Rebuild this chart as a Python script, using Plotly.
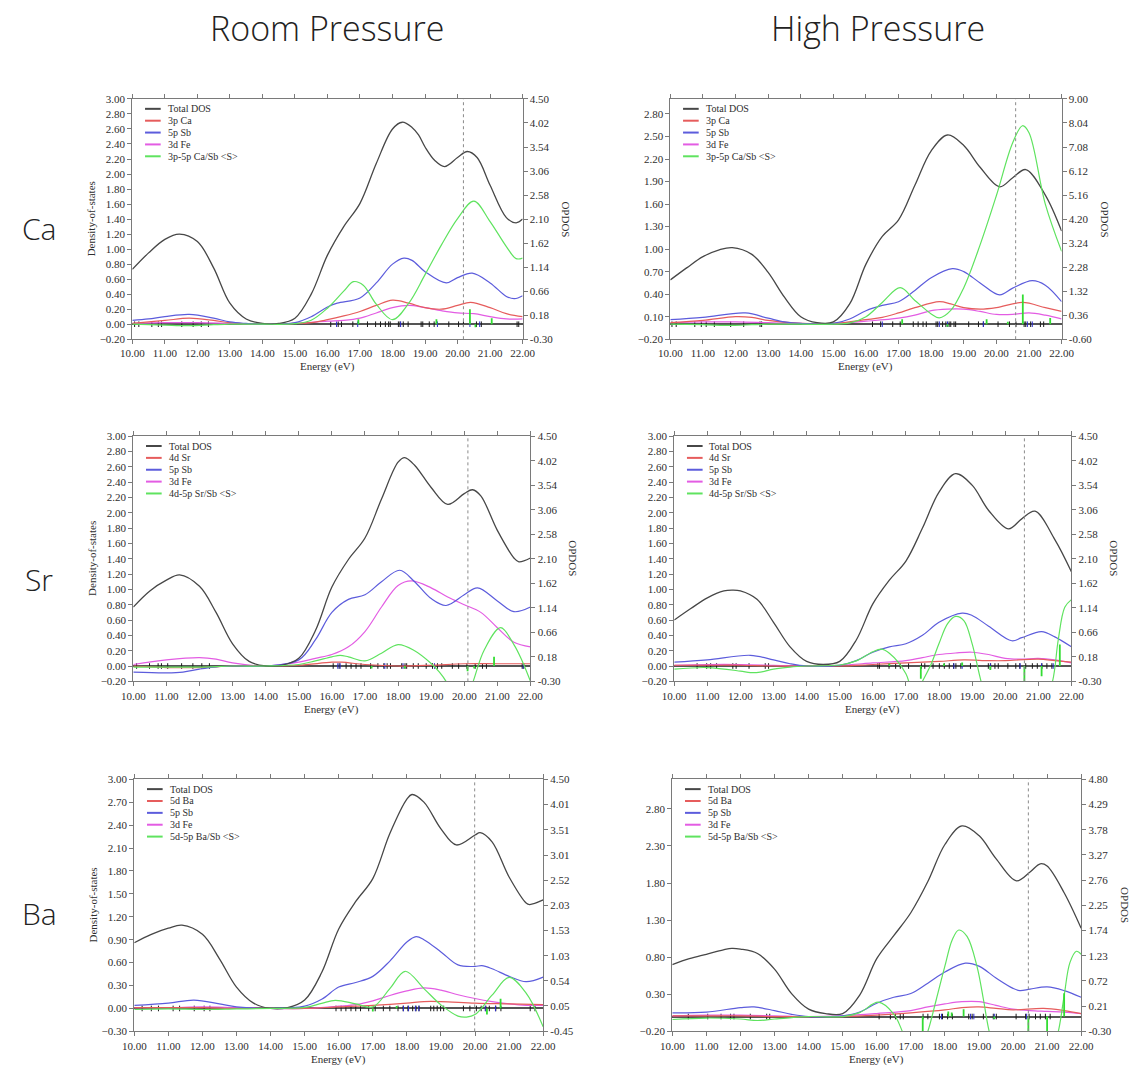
import plotly.graph_objects as go

W, H = 1147, 1071

# ---------------- data: (energy eV, value) pairs ----------------
# Ca, room pressure
CA_RP_TOTAL = [(10.0,0.73),(10.5,0.95),(11.0,1.13),(11.45,1.20),(12.0,1.10),(12.5,0.75),(13.0,0.28),(13.5,0.07),(14.0,0.01),(14.5,0.01),(15.0,0.08),(15.5,0.40),(16.0,0.92),(16.5,1.30),(17.0,1.61),(17.5,2.14),(18.0,2.60),(18.3,2.69),(18.6,2.62),(18.8,2.52),(19.0,2.36),(19.3,2.18),(19.6,2.10),(20.0,2.22),(20.3,2.30),(20.6,2.22),(21.0,1.85),(21.5,1.42),(21.8,1.35),(22.0,1.40)]
CA_RP_CA = [(10.0,0.01),(11.0,0.05),(11.75,0.08),(12.5,0.05),(13.0,0.02),(14.0,0.0),(15.0,0.01),(15.5,0.02),(16.0,0.06),(16.5,0.11),(17.0,0.17),(17.5,0.25),(18.0,0.32),(18.5,0.28),(19.0,0.22),(19.5,0.20),(20.0,0.25),(20.4,0.29),(21.0,0.22),(21.5,0.14),(22.0,0.10)]
CA_RP_SB = [(10.0,0.05),(10.5,0.07),(11.0,0.10),(11.75,0.13),(12.5,0.08),(13.0,0.03),(13.5,0.01),(14.0,0.0),(15.0,0.02),(15.5,0.10),(16.0,0.23),(16.3,0.28),(17.0,0.35),(17.5,0.55),(18.0,0.80),(18.35,0.88),(18.6,0.85),(19.0,0.70),(19.65,0.55),(20.0,0.62),(20.45,0.68),(21.0,0.55),(21.5,0.37),(21.75,0.34),(22.0,0.38)]
CA_RP_FE = [(10.0,0.01),(11.0,0.02),(12.0,0.02),(13.0,0.01),(14.0,0.0),(15.0,0.01),(16.0,0.04),(16.5,0.05),(17.0,0.08),(17.5,0.15),(18.0,0.22),(18.5,0.25),(19.0,0.22),(19.5,0.18),(20.0,0.15),(20.5,0.14),(21.0,0.10),(21.5,0.07),(22.0,0.07)]
CA_RP_OP = [(10.0,0.0),(11.0,-0.02),(11.75,-0.03),(12.5,-0.01),(13.0,0.0),(14.0,0.0),(15.0,0.01),(15.5,0.08),(16.0,0.32),(16.5,0.66),(16.8,0.85),(17.1,0.78),(17.5,0.40),(18.0,0.09),(18.5,0.42),(19.0,0.99),(19.5,1.58),(20.0,2.11),(20.5,2.46),(21.0,2.05),(21.5,1.55),(21.8,1.31),(22.0,1.32)]
CA_RP_FERMI = 20.18
CA_RP_LEVELS = [10.07,10.2,10.6,10.8,10.9,11.52,11.87,12.12,12.34,16.1,16.33,16.43,16.78,17.23,17.48,17.63,17.78,17.88,17.93,18.18,18.23,18.33,18.48,18.88,18.93,19.13,19.28,19.73,20.03,20.18,20.58,20.73,21.83,21.88]
CA_RP_LEVELS_SB = [16.28,16.93,18.25,19.38,20.38,20.68]
CA_RP_SPIKES = [(16.95,0.10),(19.35,0.10),(20.38,0.30),(20.55,-0.06),(21.05,0.12)]

# Ca, high pressure
CA_HP_TOTAL = [(10.0,0.59),(10.5,0.75),(11.0,0.90),(11.5,0.99),(11.9,1.02),(12.5,0.93),(13.0,0.69),(13.5,0.36),(14.0,0.10),(14.5,0.02),(15.0,0.03),(15.5,0.27),(16.0,0.80),(16.5,1.17),(17.0,1.39),(17.5,1.85),(18.0,2.31),(18.5,2.52),(19.0,2.38),(19.5,2.09),(20.1,1.83),(20.5,1.95),(20.9,2.06),(21.5,1.72),(22.0,1.24)]
CA_HP_CA = [(10.0,0.02),(11.0,0.05),(12.0,0.10),(12.5,0.09),(13.0,0.05),(14.0,0.01),(15.0,0.01),(16.0,0.06),(16.5,0.09),(17.0,0.15),(17.5,0.22),(18.25,0.30),(18.6,0.27),(19.0,0.22),(19.5,0.20),(20.0,0.22),(20.8,0.29),(21.5,0.22),(22.0,0.17)]
CA_HP_SB = [(10.0,0.06),(11.0,0.09),(12.3,0.15),(13.0,0.08),(13.5,0.03),(14.0,0.01),(15.0,0.01),(15.5,0.07),(16.0,0.18),(16.5,0.25),(17.0,0.30),(17.5,0.45),(18.0,0.62),(18.65,0.74),(19.0,0.70),(19.5,0.55),(20.1,0.39),(20.5,0.48),(21.1,0.58),(21.5,0.52),(22.0,0.30)]
CA_HP_FE = [(10.0,0.02),(11.0,0.03),(12.0,0.03),(13.0,0.02),(14.0,0.01),(15.0,0.01),(16.0,0.04),(17.0,0.08),(17.5,0.12),(18.0,0.18),(18.5,0.20),(19.0,0.20),(19.5,0.17),(20.0,0.13),(20.5,0.13),(21.0,0.15),(21.5,0.12),(22.0,0.07)]
CA_HP_OP = [(10.0,0.0),(11.0,-0.02),(11.9,-0.05),(12.5,-0.02),(13.0,0.0),(14.0,0.0),(15.0,0.0),(15.5,0.05),(16.0,0.30),(16.5,0.87),(17.05,1.46),(17.5,0.95),(18.0,0.41),(18.25,0.25),(18.6,0.55),(19.0,1.46),(19.5,3.17),(20.0,5.14),(20.5,7.25),(20.8,7.93),(21.0,7.65),(21.5,4.80),(22.0,2.91)]
CA_HP_FERMI = 20.59
CA_HP_LEVELS = [10.05,10.18,10.75,10.95,11.1,11.35,11.85,12.25,12.75,12.8,16.2,16.45,16.82,17.05,17.45,17.6,17.75,17.85,18.15,18.2,18.35,18.45,18.55,18.6,18.7,18.75,19.15,19.45,19.6,20.05,20.4,20.6,20.85,20.9,21.05,21.35,21.45]
CA_HP_LEVELS_SB = [16.5,18.25,18.5,19.6,20.95,21.1]
CA_HP_SPIKES = [(17.11,0.20),(18.5,-0.10),(19.7,0.20),(20.35,0.10),(20.81,1.19),(21.65,0.25)]

# Sr, room pressure
SR_RP_TOTAL = [(10.0,0.77),(10.5,0.98),(11.0,1.12),(11.4,1.19),(12.0,1.04),(12.5,0.70),(13.0,0.29),(13.5,0.06),(14.0,0.0),(14.5,0.01),(15.0,0.10),(15.5,0.46),(16.0,1.03),(16.5,1.39),(17.0,1.67),(17.5,2.18),(18.0,2.66),(18.2,2.72),(18.5,2.62),(19.0,2.33),(19.5,2.11),(20.0,2.25),(20.25,2.30),(20.5,2.22),(21.0,1.77),(21.5,1.41),(21.65,1.36),(22.0,1.41)]
SR_RP_SR = [(10.0,0.0),(11.0,-0.02),(12.0,-0.02),(13.0,0.0),(14.0,0.0),(15.0,0.01),(16.0,0.05),(16.3,0.05),(17.0,0.02),(18.0,0.0),(19.0,0.01),(20.0,0.03),(21.0,0.03),(22.0,0.03)]
SR_RP_SB = [(10.0,-0.08),(11.0,-0.09),(11.5,-0.08),(12.0,-0.04),(12.5,-0.01),(13.0,0.0),(14.0,0.0),(15.0,0.08),(15.5,0.34),(16.0,0.70),(16.5,0.87),(17.0,0.93),(17.5,1.10),(18.05,1.25),(18.5,1.10),(19.0,0.88),(19.45,0.79),(20.0,0.93),(20.4,1.02),(21.0,0.85),(21.5,0.71),(22.0,0.77)]
SR_RP_FE = [(10.0,0.02),(11.0,0.08),(12.0,0.11),(12.5,0.09),(13.0,0.04),(14.0,0.0),(15.0,0.05),(15.5,0.10),(16.0,0.15),(16.5,0.25),(17.0,0.45),(17.5,0.77),(18.0,1.05),(18.4,1.11),(19.0,1.02),(19.5,0.90),(20.0,0.80),(20.5,0.70),(21.0,0.50),(21.5,0.31),(22.0,0.25)]
SR_RP_OP = [(10.0,-0.02),(11.0,-0.02),(12.0,-0.02),(13.0,0.0),(14.0,0.0),(15.0,0.03),(15.5,0.10),(16.0,0.18),(16.25,0.21),(16.5,0.18),(17.0,0.10),(17.5,0.25),(18.0,0.42),(18.5,0.30),(19.0,0.05),(19.25,-0.12),(19.45,-0.30),(19.75,-0.70),(20.0,-0.75),(20.27,-0.30),(20.6,0.31),(21.1,0.75),(21.5,0.42),(21.75,0.10),(22.0,-0.30)]
SR_RP_FERMI = 20.11
SR_RP_LEVELS = [10.1,10.49,10.75,10.85,11.04,11.46,11.8,12.07,12.3,16.04,16.22,16.43,16.58,16.73,16.88,17.17,17.39,17.57,17.67,17.77,18.11,18.21,18.26,18.46,18.61,18.85,19.04,19.19,19.32,19.64,19.83,20.08,20.33,20.55,20.67,21.75,21.8]
SR_RP_LEVELS_SB = [16.18,16.25,17.6,18.15,19.1,21.78]
SR_RP_SPIKES = [(17.2,-0.05),(18.2,-0.05),(20.1,-0.10),(20.3,-0.05),(20.9,0.18)]

# Sr, high pressure
SR_HP_TOTAL = [(10.0,0.60),(10.5,0.75),(11.0,0.89),(11.5,0.98),(11.75,0.99),(12.0,0.98),(12.5,0.87),(13.0,0.57),(13.5,0.25),(14.0,0.06),(14.5,0.02),(15.0,0.06),(15.5,0.34),(16.0,0.81),(16.5,1.12),(17.0,1.37),(17.5,1.80),(18.0,2.27),(18.5,2.51),(19.0,2.36),(19.5,2.03),(20.1,1.79),(20.5,1.92),(20.9,2.02),(21.5,1.65),(22.0,1.23)]
SR_HP_SR = [(10.0,0.01),(11.0,0.01),(12.0,0.01),(13.0,0.0),(14.0,0.0),(15.0,0.0),(16.0,0.02),(17.0,0.04),(18.0,0.06),(18.75,0.08),(19.5,0.07),(20.0,0.07),(21.0,0.09),(21.5,0.07),(22.0,0.05)]
SR_HP_SB = [(10.0,0.05),(11.0,0.08),(12.3,0.14),(13.0,0.08),(13.5,0.03),(14.0,0.0),(15.0,0.01),(15.5,0.07),(16.0,0.18),(16.5,0.25),(17.0,0.29),(17.5,0.40),(18.0,0.57),(18.7,0.69),(19.0,0.66),(19.5,0.52),(20.2,0.33),(20.5,0.37),(21.1,0.45),(21.5,0.38),(22.0,0.25)]
SR_HP_FE = [(10.0,0.01),(11.0,0.02),(12.0,0.02),(13.0,0.01),(14.0,0.0),(15.0,0.01),(16.0,0.04),(17.0,0.07),(17.5,0.11),(18.0,0.15),(18.5,0.17),(19.0,0.18),(19.5,0.15),(20.0,0.10),(20.5,0.09),(21.0,0.10),(21.5,0.08),(22.0,0.04)]
SR_HP_OP = [(10.0,-0.06),(11.0,-0.03),(12.0,-0.10),(12.3,-0.13),(12.6,-0.12),(13.0,-0.06),(13.5,-0.02),(14.0,0.0),(15.0,0.02),(15.5,0.10),(16.0,0.28),(16.25,0.33),(16.5,0.25),(17.0,-0.15),(17.25,-0.60),(17.5,-0.30),(17.77,0.05),(18.0,0.44),(18.26,0.83),(18.5,0.97),(18.75,0.89),(19.0,0.44),(19.27,-0.30),(19.6,-1.0),(20.0,-1.5),(20.5,-1.6),(21.0,-1.1),(21.43,-0.30),(21.6,0.50),(21.8,1.15),(22.0,1.30)]
SR_HP_FERMI = 20.58
SR_HP_LEVELS = [10.69,10.98,11.1,11.28,11.77,11.87,12.26,12.75,12.85,16.15,16.2,16.49,16.69,16.83,17.08,17.47,17.57,17.82,18.01,18.16,18.31,18.44,18.51,18.66,18.95,19.49,19.56,19.69,19.79,20.08,20.32,20.44,20.62,20.82,20.97,21.11,21.26,21.41]
SR_HP_LEVELS_SB = [18.45,18.7,19.55,20.45,21.1,21.45]
SR_HP_SPIKES = [(16.5,0.05),(17.45,-0.25),(18.15,0.05),(18.7,0.07),(19.55,-0.08),(20.58,-0.35),(21.1,-0.20),(21.65,0.42)]

# Ba, room pressure
BA_RP_TOTAL = [(10.0,0.86),(10.5,0.97),(11.0,1.05),(11.4,1.09),(12.0,0.97),(12.5,0.65),(13.0,0.28),(13.5,0.07),(14.0,0.0),(14.5,0.01),(15.0,0.11),(15.5,0.47),(16.0,1.04),(16.5,1.40),(17.0,1.70),(17.5,2.29),(18.0,2.74),(18.15,2.80),(18.5,2.70),(19.0,2.35),(19.45,2.14),(20.0,2.27),(20.15,2.30),(20.5,2.18),(21.0,1.72),(21.5,1.38),(21.6,1.36),(22.0,1.42)]
BA_RP_BA = [(10.0,0.01),(11.0,0.01),(12.0,0.01),(13.0,0.0),(14.0,0.0),(15.0,0.0),(16.0,0.02),(17.0,0.04),(18.0,0.07),(18.5,0.09),(19.0,0.09),(20.0,0.07),(21.0,0.06),(22.0,0.05)]
BA_RP_SB = [(10.0,0.04),(11.0,0.07),(11.75,0.11),(12.5,0.06),(13.0,0.02),(14.0,0.0),(15.0,0.03),(15.5,0.12),(16.0,0.28),(16.5,0.34),(17.0,0.42),(17.5,0.62),(18.0,0.87),(18.27,0.94),(18.5,0.90),(19.0,0.74),(19.5,0.57),(20.0,0.55),(20.2,0.56),(20.5,0.52),(21.0,0.42),(21.5,0.35),(22.0,0.41)]
BA_RP_FE = [(10.0,0.01),(11.0,0.01),(12.0,0.02),(13.0,0.01),(14.0,0.0),(15.0,0.0),(16.0,0.03),(16.5,0.05),(17.0,0.10),(17.5,0.17),(18.0,0.23),(18.5,0.27),(19.0,0.24),(19.5,0.18),(20.0,0.13),(20.5,0.09),(21.0,0.06),(21.5,0.04),(22.0,0.04)]
BA_RP_OP = [(10.0,-0.02),(11.0,-0.01),(12.0,-0.02),(13.0,-0.01),(14.0,0.0),(15.0,0.02),(15.5,0.10),(15.9,0.16),(16.5,0.09),(17.0,0.03),(17.5,0.39),(17.95,0.73),(18.5,0.39),(19.0,0.07),(19.5,-0.15),(19.75,-0.17),(20.0,-0.12),(20.5,0.26),(21.0,0.61),(21.5,0.30),(22.0,-0.36)]
BA_RP_FERMI = 19.99
BA_RP_LEVELS = [10.23,10.5,10.71,11.14,11.33,11.76,12.05,12.22,15.92,16.07,16.21,16.36,16.5,16.64,16.88,17.07,17.31,17.5,17.74,17.89,18.03,18.17,18.27,18.36,18.7,18.79,18.89,18.99,19.08,19.66,19.85,20.04,20.18,20.32,20.42,20.61,20.76,21.62,21.76]
BA_RP_LEVELS_SB = [17.9,18.05,18.25,18.35,20.3,20.6]
BA_RP_SPIKES = [(17.0,-0.06),(17.7,0.05),(20.35,-0.12),(20.75,0.19)]

# Ba, high pressure
BA_HP_TOTAL = [(10.0,0.70),(10.5,0.78),(11.0,0.84),(11.5,0.90),(11.75,0.92),(12.0,0.91),(12.5,0.85),(13.0,0.64),(13.5,0.31),(14.0,0.10),(14.5,0.04),(15.0,0.04),(15.5,0.29),(16.0,0.78),(16.5,1.09),(17.0,1.40),(17.5,1.82),(18.0,2.32),(18.5,2.57),(19.0,2.44),(19.5,2.13),(20.1,1.83),(20.5,1.95),(20.8,2.06),(21.0,2.03),(21.5,1.67),(22.0,1.19)]
BA_HP_BA = [(10.0,0.01),(11.0,0.01),(12.0,0.01),(13.0,0.0),(14.0,0.0),(15.0,0.0),(16.0,0.02),(17.0,0.05),(18.0,0.09),(18.5,0.12),(19.0,0.13),(19.5,0.11),(20.0,0.09),(20.9,0.11),(21.5,0.08),(22.0,0.04)]
BA_HP_SB = [(10.0,0.05),(11.0,0.06),(12.0,0.12),(12.4,0.13),(13.0,0.08),(13.5,0.03),(14.0,0.0),(15.0,0.01),(15.5,0.06),(16.0,0.18),(16.5,0.26),(17.0,0.31),(17.5,0.45),(18.0,0.60),(18.6,0.72),(19.0,0.68),(19.5,0.52),(20.0,0.38),(20.2,0.35),(20.5,0.37),(21.0,0.40),(21.5,0.35),(22.0,0.26)]
BA_HP_FE = [(10.0,0.01),(11.0,0.02),(12.0,0.02),(13.0,0.01),(14.0,0.0),(15.0,0.01),(16.0,0.04),(17.0,0.08),(17.5,0.13),(18.0,0.17),(18.5,0.20),(19.0,0.20),(19.5,0.15),(20.0,0.10),(20.5,0.08),(21.0,0.07),(21.5,0.06),(22.0,0.04)]
BA_HP_OP = [(10.0,-0.06),(11.0,-0.03),(12.0,-0.05),(12.5,-0.08),(13.0,-0.05),(13.5,-0.02),(14.0,0.0),(15.0,0.0),(15.5,0.08),(16.05,0.29),(16.5,0.05),(16.75,-0.30),(17.0,-0.80),(17.25,-0.75),(17.5,-0.30),(17.75,0.35),(18.0,1.02),(18.22,1.56),(18.41,1.75),(18.65,1.62),(18.94,1.02),(19.13,0.35),(19.3,-0.30),(19.6,-1.0),(20.0,-1.5),(20.5,-1.6),(21.0,-1.1),(21.33,-0.30),(21.5,0.42),(21.67,1.09),(21.86,1.32),(22.0,1.26)]
BA_HP_FERMI = 20.45
BA_HP_LEVELS = [10.47,11.04,11.43,11.71,11.81,12.29,12.77,12.86,16.07,16.4,16.55,16.69,16.78,17.36,17.5,17.84,17.93,18.08,18.22,18.7,18.8,19.13,19.42,19.51,20.09,20.37,20.47,20.66,20.8,20.95,21.09]
BA_HP_LEVELS_SB = [17.9,18.75,18.85,19.45,20.4]
BA_HP_SPIKES = [(17.35,-0.30),(18.1,0.10),(18.2,0.08),(18.55,0.15),(19.45,-0.05),(20.45,-0.32),(21.0,-0.30),(21.5,0.47)]

# axis scales: left (DOS) range + tick step, right (OPDOS) range + labels
CA_RP_LEFT = ([-0.2, 3.0], 0.2)
CA_HP_LEFT = ([-0.2, 3.0], 0.3)
SR_LEFT = ([-0.2, 3.0], 0.2)
BA_RP_LEFT = ([-0.3, 3.0], 0.3)
BA_HP_LEFT = ([-0.2, 3.2], 0.5)
RIGHT_450 = ["-0.30","0.18","0.66","1.14","1.62","2.10","2.58","3.06","3.54","4.02","4.50"]
RIGHT_900 = ["-0.60","0.36","1.32","2.28","3.24","4.20","5.16","6.12","7.08","8.04","9.00"]
RIGHT_BA_RP = ["-0.45","0.05","0.54","1.03","1.53","2.03","2.52","3.01","3.51","4.01","4.50"]
RIGHT_BA_HP = ["-0.30","0.21","0.72","1.23","1.74","2.25","2.76","3.27","3.78","4.29","4.80"]

NAMES_CA = ["Total DOS", "3p Ca", "5p Sb", "3d Fe", "3p-5p Ca/Sb &lt;S&gt;"]
NAMES_SR = ["Total DOS", "4d Sr", "5p Sb", "3d Fe", "4d-5p Sr/Sb &lt;S&gt;"]
NAMES_BA = ["Total DOS", "5d Ba", "5p Sb", "3d Fe", "5d-5p Ba/Sb &lt;S&gt;"]

COLUMN_TITLES = ["Room Pressure", "High Pressure"]
ROW_TITLES = ["Ca", "Sr", "Ba"]

# ---------------- styling ----------------
C_TOTAL = "#474747"
C_A = "#e65c5c"
C_SB = "#5c5cdc"
C_FE = "#e35ce3"
C_OP = "#5fe35f"
C_AX = "#7a7a7a"
SERIF = "Liberation Serif, Times New Roman, serif"
TEXT_C = "#2e2e2e"
TICKFONT = dict(family=SERIF, size=11, color=TEXT_C)

# panel boxes in pixels: (left, top, right, bottom)
panels = [
    dict(box=(123, 94, 522, 337), total=CA_RP_TOTAL, a=CA_RP_CA, sb=CA_RP_SB, fe=CA_RP_FE, op=CA_RP_OP,
         fermi=CA_RP_FERMI, lv=CA_RP_LEVELS, lvsb=CA_RP_LEVELS_SB, sp=CA_RP_SPIKES,
         left=CA_RP_LEFT, right=RIGHT_450, names=NAMES_CA, dos_title=True, op_title=True),
    dict(box=(673, 94, 1073, 337), total=CA_HP_TOTAL, a=CA_HP_CA, sb=CA_HP_SB, fe=CA_HP_FE, op=CA_HP_OP,
         fermi=CA_HP_FERMI, lv=CA_HP_LEVELS, lvsb=CA_HP_LEVELS_SB, sp=CA_HP_SPIKES,
         left=CA_HP_LEFT, right=RIGHT_900, names=NAMES_CA, dos_title=False, op_title=True),
    dict(box=(124, 435, 530, 683), total=SR_RP_TOTAL, a=SR_RP_SR, sb=SR_RP_SB, fe=SR_RP_FE, op=SR_RP_OP,
         fermi=SR_RP_FERMI, lv=SR_RP_LEVELS, lvsb=SR_RP_LEVELS_SB, sp=SR_RP_SPIKES,
         left=SR_LEFT, right=RIGHT_450, names=NAMES_SR, dos_title=True, op_title=True),
    dict(box=(677, 435, 1083, 683), total=SR_HP_TOTAL, a=SR_HP_SR, sb=SR_HP_SB, fe=SR_HP_FE, op=SR_HP_OP,
         fermi=SR_HP_FERMI, lv=SR_HP_LEVELS, lvsb=SR_HP_LEVELS_SB, sp=SR_HP_SPIKES,
         left=SR_LEFT, right=RIGHT_450, names=NAMES_SR, dos_title=False, op_title=True),
    dict(box=(125, 782, 543, 1037), total=BA_RP_TOTAL, a=BA_RP_BA, sb=BA_RP_SB, fe=BA_RP_FE, op=BA_RP_OP,
         fermi=BA_RP_FERMI, lv=BA_RP_LEVELS, lvsb=BA_RP_LEVELS_SB, sp=BA_RP_SPIKES,
         left=BA_RP_LEFT, right=RIGHT_BA_RP, names=NAMES_BA, dos_title=True, op_title=False),
    dict(box=(675, 782, 1093, 1037), total=BA_HP_TOTAL, a=BA_HP_BA, sb=BA_HP_SB, fe=BA_HP_FE, op=BA_HP_OP,
         fermi=BA_HP_FERMI, lv=BA_HP_LEVELS, lvsb=BA_HP_LEVELS_SB, sp=BA_HP_SPIKES,
         left=BA_HP_LEFT, right=RIGHT_BA_HP, names=NAMES_BA, dos_title=False, op_title=True),
]


def unzip(pairs):
    return [p[0] for p in pairs], [p[1] for p in pairs]


def fx(px):
    return px / W


def fy(py):
    return 1 - py / H


fig = go.Figure()
layout = {}
shapes = []
annotations = []

for i, p in enumerate(panels, start=1):
    xa = "x" if i == 1 else f"x{i}"
    nl, nr = 2 * i - 1, 2 * i
    yl = "y" if nl == 1 else f"y{nl}"
    yr = f"y{nr}"
    x0, y0, x1, y1 = p["box"]

    common = dict(showline=True, linecolor=C_AX, linewidth=1, ticks="outside", ticklen=4,
                  tickcolor=C_AX, tickwidth=1, tickfont=TICKFONT, showgrid=False)
    layout["xaxis" + ("" if i == 1 else str(i))] = dict(
        domain=[fx(x0), fx(x1)], anchor=yl, range=[10, 22], tick0=10, dtick=1,
        tickformat=".2f", mirror="ticks", zeroline=False, **common)
    lrange, lstep = p["left"]
    layout["yaxis" + ("" if nl == 1 else str(nl))] = dict(
        domain=[fy(y1), fy(y0)], anchor=xa, range=lrange, tick0=lrange[0], dtick=lstep,
        tickformat=".2f", zeroline=True, zerolinecolor="#555555", zerolinewidth=1.5, **common)
    rlabels = p["right"]
    layout[f"yaxis{nr}"] = dict(
        overlaying=yl, side="right", anchor=xa,
        range=[float(rlabels[0]), float(rlabels[-1])],
        tickmode="array", tickvals=[float(t) for t in rlabels], ticktext=rlabels,
        zeroline=False, **common)

    # eigenvalue markers on the zero line
    fig.add_trace(go.Scatter(x=p["lv"], y=[0] * len(p["lv"]), mode="markers", xaxis=xa, yaxis=yl,
                             marker=dict(symbol="line-ns", size=4, line=dict(color="#1a1a1a", width=1)),
                             hoverinfo="skip"))
    fig.add_trace(go.Scatter(x=p["lvsb"], y=[0] * len(p["lvsb"]), mode="markers", xaxis=xa, yaxis=yl,
                             marker=dict(symbol="line-ns", size=4, line=dict(color="#2a2acc", width=1)),
                             hoverinfo="skip"))

    # density of states curves
    for key, col, w in (("fe", C_FE, 1.2), ("a", C_A, 1.2), ("sb", C_SB, 1.2), ("total", C_TOTAL, 1.3)):
        ex, ey = unzip(p[key])
        fig.add_trace(go.Scatter(x=ex, y=ey, mode="lines", xaxis=xa, yaxis=yl,
                                 line=dict(color=col, width=w, shape="spline", smoothing=1.0)))

    # overlap population (right axis)
    ex, ey = unzip(p["op"])
    fig.add_trace(go.Scatter(x=ex, y=ey, mode="lines", xaxis=xa, yaxis=yr,
                             line=dict(color=C_OP, width=1.2, shape="spline", smoothing=1.0)))
    sx, sy = [], []
    for e, h in p["sp"]:
        sx += [e, e, None]
        sy += [0, h, None]
    fig.add_trace(go.Scatter(x=sx, y=sy, mode="lines", xaxis=xa, yaxis=yr,
                             line=dict(color="#33dd33", width=1.8), hoverinfo="skip"))

    # Fermi level
    shapes.append(dict(type="line", xref=xa, yref=f"{yl} domain", x0=p["fermi"], x1=p["fermi"],
                       y0=0, y1=1, line=dict(color="#8a8a8a", width=1, dash="dot")))

    # legend block
    legend_cols = [C_TOTAL, C_A, C_SB, C_FE, C_OP]
    for k, (name, col) in enumerate(zip(p["names"], legend_cols)):
        yy = y0 + 10 + 12 * k
        shapes.append(dict(type="line", xref="paper", yref="paper", x0=fx(x0 + 13), x1=fx(x0 + 29),
                           y0=fy(yy), y1=fy(yy), line=dict(color=col, width=2)))
        annotations.append(dict(text=name, xref="paper", yref="paper", x=fx(x0 + 35), y=fy(yy),
                                xanchor="left", yanchor="middle", showarrow=False, borderpad=0,
                                font=dict(family=SERIF, size=10, color=TEXT_C)))

    # axis titles
    annotations.append(dict(text="Energy (eV)", xref="paper", yref="paper", x=fx((x0 + x1) / 2),
                            y=fy(y1 + 28), xanchor="center", yanchor="middle", showarrow=False,
                            borderpad=0, font=dict(family=SERIF, size=11, color=TEXT_C)))
    if p["dos_title"]:
        annotations.append(dict(text="Density-of-states", xref="paper", yref="paper", x=fx(x0 - 42),
                                y=fy((y0 + y1) / 2), xanchor="center", yanchor="middle", textangle=-90,
                                showarrow=False, font=dict(family=SERIF, size=11, color=TEXT_C)))
    if p["op_title"]:
        annotations.append(dict(text="OPDOS", xref="paper", yref="paper", x=fx(x1 + 44),
                                y=fy((y0 + y1) / 2), xanchor="center", yanchor="middle", textangle=90,
                                showarrow=False, font=dict(family=SERIF, size=11, color=TEXT_C)))

# column and row headings
for txt, cx in zip(COLUMN_TITLES, (322, 885)):
    annotations.append(dict(text=txt, xref="paper", yref="paper", x=fx(cx), y=fy(22),
                            xanchor="center", yanchor="middle", showarrow=False,
                            font=dict(family="Open Sans, sans-serif", size=34, color="#222222", weight=300)))
for txt, cy in zip(ROW_TITLES, (225, 580, 918)):
    annotations.append(dict(text=txt, xref="paper", yref="paper", x=fx(28), y=fy(cy),
                            xanchor="center", yanchor="middle", showarrow=False,
                            font=dict(family="Open Sans, sans-serif", size=30, color="#222222", weight=300)))

fig.update_layout(layout)
fig.update_layout(width=W, height=H, autosize=False, margin=dict(l=0, r=0, t=0, b=0),
                  paper_bgcolor="white", plot_bgcolor="white", showlegend=False,
                  shapes=shapes, annotations=annotations)

fig.write_html("out.html")
